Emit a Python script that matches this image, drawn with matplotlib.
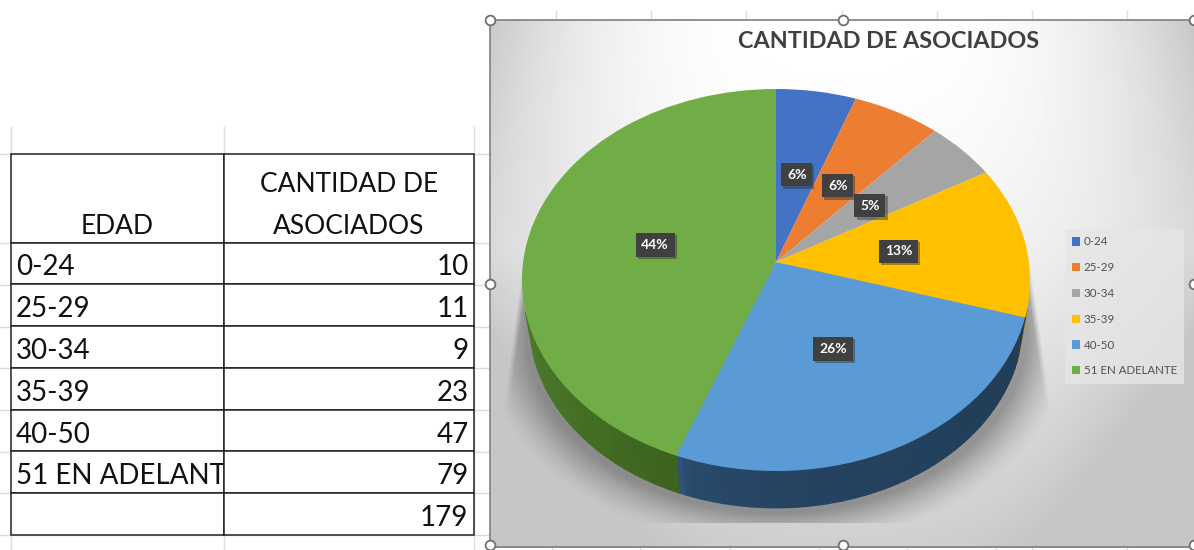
import matplotlib
matplotlib.use('Agg')
import matplotlib.pyplot as plt
import matplotlib.patheffects as pe
from matplotlib.colors import to_rgb
from matplotlib.table import Table
from matplotlib.transforms import Affine2D, Transform
import numpy as np

plt.rcParams['font.family'] = ['Lato', 'DejaVu Sans']

# data
edades = ['0-24', '25-29', '30-34', '35-39', '40-50', '51 EN ADELANTE']
asociados = [10, 11, 9, 23, 47, 79]
total = 179
header_edad = 'EDAD'
header_cant = 'CANTIDAD DE\nASOCIADOS'
titulo = 'CANTIDAD DE ASOCIADOS'

colores = ['#4472c4', '#ed7d31', '#a5a5a5', '#ffc000', '#5b9bd5', '#70ad47']
# wall colours at each end of a wedge, and how fast they change
side_a = ['#2c4a80', '#9a5120', '#6b6b6b', '#a67c00', '#2f5278', '#60963a']
side_b = ['#2c4a80', '#9a5120', '#6b6b6b', '#a67c00', '#213d57', '#3d631f']
side_g = [1, 1, 1, 1, 0.3, 1.5]


class Perspective(Transform):
    # unit circle -> pixels, tilted pie seen in perspective
    input_dims = 2
    output_dims = 2

    def __init__(self, s=1.0, dy=0.0):
        super().__init__()
        self.s = s
        self.dy = dy

    def transform_non_affine(self, values):
        v = np.asarray(values, dtype=float)
        d = 1 + 0.0942 * v[:, 1]
        return np.column_stack([776 + self.s * 252.9 * v[:, 0] / d,
                                262 + self.dy - self.s * 189.3 * v[:, 1] / d])


fig = plt.figure(figsize=(11.94, 5.5), dpi=100)
ax = fig.add_axes([0, 0, 1, 1])

wedges, _, pct = ax.pie(asociados, colors=colores, startangle=90, counterclock=False,
                        labeldistance=None, autopct='%.0f%%', pctdistance=0.49,
                        wedgeprops={'zorder': 6, 'linewidth': 0},
                        textprops={'zorder': 7, 'color': 'white', 'fontsize': 10,
                                   'fontweight': 'bold'})
ax.set_aspect('auto')
ax.set_xlim(0, 1194)
ax.set_ylim(550, 0)
ax.set_autoscale_on(False)
ax.set_axis_off()

top = Perspective()
base = Perspective(0.97, 43)
for w in wedges:
    w.set_transform(top + ax.transData)
for t in pct:
    t.set_transform(top + ax.transData)
    t.set_bbox(dict(boxstyle='square,pad=0.42', fc='#404040', ec='none'))
    t.get_bbox_patch().set_path_effects([
        pe.SimplePatchShadow(offset=(1.5, -1.5), shadow_rgbFace='#333333', alpha=0.45),
        pe.Normal()])

# pie wall, front part only
for w, ca, cb, g in zip(wedges, side_a, side_b, side_g):
    th = np.radians(np.linspace(w.theta1, w.theta2, 60))
    c0 = np.array(to_rgb(ca))
    c1 = np.array(to_rgb(cb))
    for i in range(len(th) - 1):
        if np.sin(th[i:i + 2].mean()) > -0.25:
            continue
        pts = np.column_stack([np.cos(th[i:i + 2]), np.sin(th[i:i + 2])])
        up = top.transform(pts)
        lo = base.transform(pts)
        col = c0 + (c1 - c0) * (i / (len(th) - 2)) ** g
        ax.fill(np.r_[up[:, 0], lo[::-1, 0]], np.r_[up[:, 1], lo[::-1, 1]],
                color=col, lw=1.0, zorder=5)

# sheet gridlines behind everything
for yy in [154, 243, 285, 327, 368, 410, 452, 493, 535]:
    ax.plot([0, 490], [yy, yy], color='#dcdcdc', lw=1, zorder=1)
for xx in [11, 224, 474]:
    ax.plot([xx, xx], [127, 550], color='#dcdcdc', lw=1, zorder=1)
for xx in [556, 651, 746, 842, 937, 1032, 1127]:
    ax.plot([xx, xx], [11, 20], color='#dcdcdc', lw=1, zorder=1)
for xx in [552, 640, 730, 819, 907, 996, 1032, 1127]:
    ax.plot([xx, xx], [547, 550], color='#dcdcdc', lw=1, zorder=1)

# chart background
yy, xx = np.mgrid[20:548, 490:1195]
xterm = np.abs((xx - 840) / 350.0) ** 3 * (0.45 + 0.55 * np.abs(yy - 250) / 230.0)
yterm = (np.abs(yy - 30) / 560.0) ** 1.6
bg = np.clip(255 - 55 * (xterm + yterm), 198, 255)
ax.imshow(bg, extent=(490, 1195, 548, 20), cmap='gray', vmin=0, vmax=255,
          aspect='auto', zorder=2)

# soft shadow under the pie, cut to a trapezoid at the sides and bottom
r = np.sqrt(((xx - 776) / 285.0) ** 2 + ((yy - 330) / 208.0) ** 2)
al = np.clip((1.05 - r) / 0.17, 0, 1) ** 1.4 * 0.5
left_edge = 522 - (yy - 265) * 17 / 125.0
right_edge = 1030 + (yy - 265) * 20 / 135.0
al *= np.clip((xx - left_edge) / 6.0, 0, 1) * np.clip((right_edge - xx) / 6.0, 0, 1)
al[yy < 265] = 0
al[yy > 522] = 0
sh = np.zeros(al.shape + (4,))
sh[..., :3] = 0.3
sh[..., 3] = al
ax.imshow(sh, extent=(490, 1195, 548, 20), aspect='auto', zorder=3)
ax.set_xlim(0, 1194)
ax.set_ylim(550, 0)

ax.add_patch(plt.Rectangle((490, 20), 710, 527, fc='none', ec='#7f7f7f', lw=1.2, zorder=8))
for hx, hy in [(490, 20), (843, 20), (1194, 20), (490, 284), (1194, 284),
               (490, 545), (843, 545), (1194, 545)]:
    ax.plot(hx, hy, 'o', ms=7, mfc='white', mec='#6f6f6f', mew=1.3, zorder=9)

ax.text(889, 41.5, titulo, ha='center', va='center', fontsize=16.8, fontweight='bold',
        color='#404040', zorder=8)

leg = ax.legend(wedges, edades, loc='upper left', bbox_to_anchor=(1065, 229),
                bbox_transform=ax.transData, borderaxespad=0, fontsize=8.3,
                frameon=True, fancybox=False, facecolor='#e6e6e6', edgecolor='none',
                framealpha=0.8, handlelength=0.66, handleheight=0.72, handletextpad=0.3,
                labelspacing=1.28, borderpad=0.65, labelcolor='#505050')
leg.set_zorder(8)

# excel table
tb = Table(ax, bbox=[11 / 1194, 1 - 535 / 550, 463 / 1194, 381 / 550])
tb.auto_set_font_size(False)
row_h = [89] + [42] * 7
col_w = [213, 250]
rows = [('\n' + header_edad, header_cant)]
rows += [(e, str(n)) for e, n in zip(edades, asociados)]
rows += [('', str(total))]
for i, (a, b) in enumerate(rows):
    ca = tb.add_cell(i, 0, col_w[0], row_h[i], text=a, loc='center' if i == 0 else 'left',
                     facecolor='white', edgecolor='#222222')
    cb = tb.add_cell(i, 1, col_w[1], row_h[i], text=b, loc='center' if i == 0 else 'right',
                     facecolor='white', edgecolor='#222222')
    for c in (ca, cb):
        c.PAD = 0.022
        c.set_linewidth(1.1)
        txt = c.get_text()
        txt.set_color('#111111')
        txt.set_linespacing(1.85)
        txt.set_fontsize(19 if i == 0 else 20)
        txt.set_transform(Affine2D().translate(0, -7 if i == 0 else -4))
        txt.set_clip_path(c)
        txt.set_clip_on(True)
tb.set_zorder(2)
ax.add_table(tb)

plt.savefig('out.png', dpi=100)
